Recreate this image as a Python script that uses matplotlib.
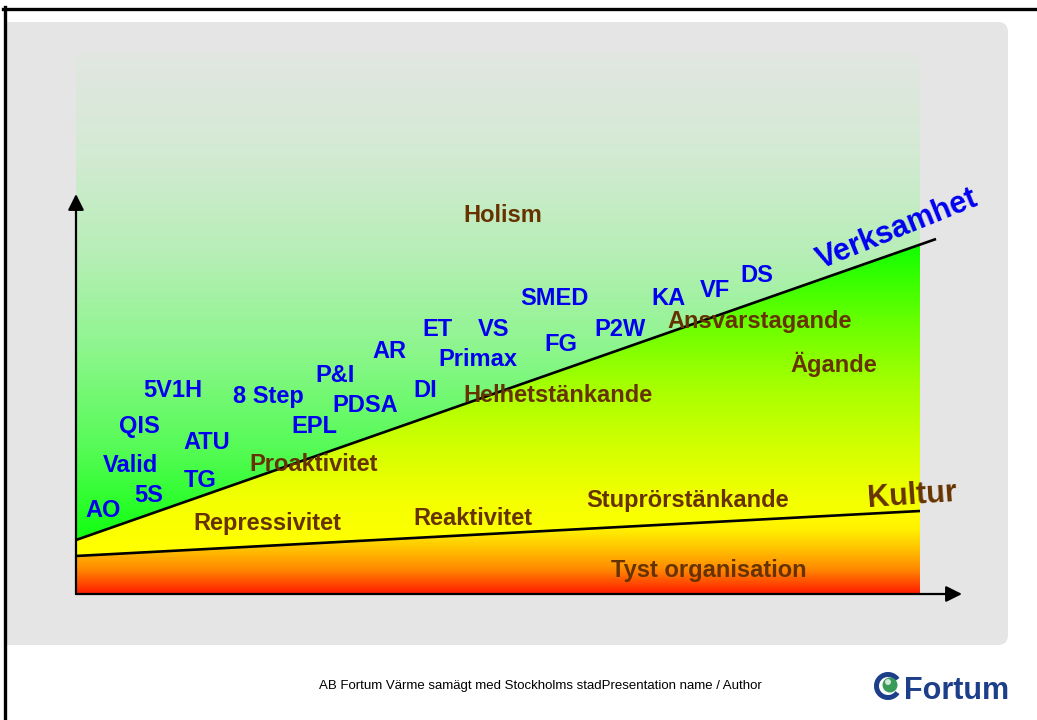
import matplotlib.pyplot as plt
import numpy as np
from matplotlib.patches import Polygon, FancyBboxPatch, Rectangle, Wedge, Circle
from matplotlib.colors import to_rgb

plt.rcParams['font.family'] = ['Liberation Sans', 'DejaVu Sans']

# chart units: x 0..10 is the coloured field, y counts 40 px steps from the x axis
verksamhet_x = [0.0, 10.19]
verksamhet_y = [1.35, 8.875]
kultur_x = [0.0, 10.0]
kultur_y = [0.95, 2.075]

# improvement tools (blue), x = centre, y = baseline
tools = ['AO', '5S', 'Valid', 'QIS', 'ATU', 'TG', '5V1H', '8 Step', 'EPL', 'P&I', 'PDSA',
         'AR', 'ET', 'VS', 'Primax', 'DI', 'SMED', 'FG', 'P2W', 'KA', 'VF', 'DS']
tools_x = [0.32, 0.865, 0.64, 0.746, 1.552, 1.469, 1.149, 2.275, 2.82, 3.069, 3.424,
           3.709, 4.277, 4.953, 4.763, 4.135, 5.664, 5.746, 6.445, 7.014, 7.571, 8.069]
tools_y = [1.925, 2.30, 3.05, 4.025, 3.625, 2.675, 4.925, 4.775, 4.025, 5.30, 4.55,
           5.90, 6.45, 6.45, 5.70, 4.925, 7.225, 6.075, 6.45, 7.225, 7.425, 7.80]

# culture stages (brown)
stages = ['Holism', 'Ansvarstagande', 'Ägande', 'Helhetstänkande', 'Proaktivitet',
          'Repressivitet', 'Reaktivitet', 'Stuprörstänkande', 'Tyst organisation']
stages_x = [5.059, 8.104, 8.981, 5.711, 2.82, 2.263, 4.704, 7.251, 7.50]
stages_y = [9.30, 6.65, 5.55, 4.80, 3.075, 1.60, 1.725, 2.175, 0.425]

BLUE = '#0000f0'
BROWN = '#663300'

fig = plt.figure(figsize=(10.37, 7.2), dpi=100)

# ---------- slide background (pixel coords) ----------
bg = fig.add_axes([0, 0, 1, 1])
bg.set_xlim(0, 1037)
bg.set_ylim(720, 0)
bg.axis('off')
bg.add_patch(FancyBboxPatch((-30, 32), 1028, 603, boxstyle='round,pad=10',
                            fc='#e5e5e5', ec='none'))
bg.add_patch(Rectangle((0, 0), 4, 720, fc='white', ec='none', zorder=2))
bg.plot([3, 1037], [8.5, 8.5], color='black', lw=2.4, zorder=3)
bg.plot([4.5, 4.5], [7, 720], color='black', lw=2.4, zorder=3)

bg.text(540, 686, 'AB Fortum Värme samägt med Stockholms stadPresentation name / Author',
        ha='center', va='center', fontsize=9.5, color='black')
bg.add_patch(Wedge((888, 686), 14, 35, 325, width=5, fc='#1d3f8a', ec='none'))
bg.add_patch(Circle((890, 685), 7.5, fc='#3a9a5a', ec='none'))
bg.add_patch(Circle((888, 682), 3, fc='#cfe8d8', ec='none'))
bg.text(904, 699, 'Fortum', ha='left', va='baseline', fontsize=22, weight='bold',
        color='#1d3f8a')

# ---------- chart ----------
ax = fig.add_axes([76 / 1037, 126 / 720, 884 / 1037, 541 / 720])
ax.set_xlim(0, 884 / 84.4)
ax.set_ylim(0, 541 / 40)
ax.axis('off')
ax.patch.set_visible(False)

ytop = 541 / 40
v0 = verksamhet_y[0]
v10 = np.interp(10, verksamhet_x, verksamhet_y)
k0 = kultur_y[0]
k10 = np.interp(10, kultur_x, kultur_y)


def px2y(p):
    return (594 - p) / 40


def gradient(poly, stops):
    ys = np.linspace(0, ytop, 600)
    sy = [px2y(p) for p, c in stops][::-1]
    cols = [to_rgb(c) for p, c in stops][::-1]
    img = np.zeros((len(ys), 1, 3))
    for ch in range(3):
        img[:, 0, ch] = np.interp(ys, sy, [c[ch] for c in cols])
    patch = Polygon(poly, closed=True, fc='none', ec='none')
    ax.add_patch(patch)
    im = ax.imshow(img, extent=[0, 10, 0, ytop], origin='lower', aspect='auto',
                   interpolation='bilinear', zorder=1)
    im.set_clip_path(patch)


gradient([(0, v0), (10, v10), (10, ytop), (0, ytop)],
         [(53, '#e2e6e2'), (150, '#d4ead4'), (250, '#b8eeb8'), (350, '#8cf68c'),
          (450, '#55fb55'), (540, '#10ff10')])
gradient([(0, v0), (10, v10), (10, k10), (0, k0)],
         [(245, '#10ff00'), (320, '#66ff00'), (385, '#a5ff00'), (450, '#d4ff00'),
          (500, '#f4ff00'), (540, '#ffff00')])
gradient([(0, k0), (10, k10), (10, 0), (0, 0)],
         [(511, '#ffff00'), (530, '#fff000'), (550, '#ffc000'), (570, '#ff8800'),
          (594, '#ff1a00')])

ax.plot(verksamhet_x, verksamhet_y, color='black', lw=1.9, zorder=3, solid_capstyle='butt')
ax.plot(kultur_x, kultur_y, color='black', lw=1.9, zorder=3, solid_capstyle='butt')

arrow = dict(arrowstyle='-|>,head_width=0.4,head_length=0.8', color='black', lw=1.6,
             mutation_scale=12, shrinkA=0, shrinkB=0)
ax.annotate('', xy=(0, 10), xytext=(0, 0), arrowprops=arrow, zorder=4, annotation_clip=False)
ax.annotate('', xy=(886 / 84.4, 0), xytext=(0, 0), arrowprops=arrow, zorder=4,
            annotation_clip=False)

for t, x, y in zip(tools, tools_x, tools_y):
    ax.text(x, y, t, ha='center', va='baseline', fontsize=17, weight='bold',
            color=BLUE, zorder=5)
for t, x, y in zip(stages, stages_x, stages_y):
    ax.text(x, y, t, ha='center', va='baseline', fontsize=17, weight='bold',
            color=BROWN, zorder=5)

ax.text(9.73, 9.12, 'Verksamhet', ha='center', va='center', rotation=22,
        rotation_mode='anchor', fontsize=22, weight='bold', color=BLUE, zorder=5,
        clip_on=False)
ax.text(9.905, 2.45, 'Kultur', ha='center', va='center', rotation=4,
        rotation_mode='anchor', fontsize=22, weight='bold', color=BROWN, zorder=5,
        clip_on=False)

fig.savefig('out.png', dpi=100)
